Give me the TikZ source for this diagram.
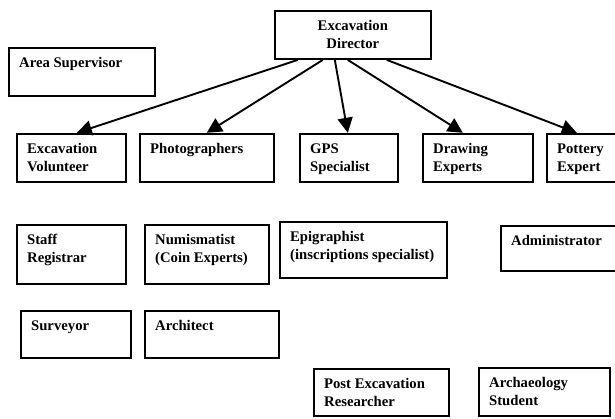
\documentclass[tikz,border=0pt]{standalone}
\usepackage{fontspec}
\setmainfont{Liberation Serif}
\usetikzlibrary{calc,arrows.meta}

% box text: width, height, lines (top left)
\newcommand{\jobtext}[3]{\parbox[b][#2pt][t]{#1pt}{\raggedright\leftskip=10.5pt\rule{0pt}{20pt}#3}}
\newcommand{\headtext}[3]{\parbox[b][#2pt][t]{#1pt}{\centering\rule{0pt}{20pt}#3}}

\begin{document}
\begin{tikzpicture}[x=1pt, y=-1pt]
\tikzstyle{job}=[draw, line width=1.7pt, anchor=north west, inner sep=0pt, font=\fontsize{14.7}{18}\selectfont\bfseries]
\tikzstyle{lnk}=[line width=1.9pt, -{Triangle[length=15pt,width=15pt]}]

\clip (0,0) rectangle (615,418);

% top
\node[job] (dir) at (273.8,9.8) {\headtext{156.4}{48.4}{Excavation\\Director}};
\node[job] (area) at (7.8,46.8) {\jobtext{146.4}{48.4}{Area Supervisor}};

% second row
\node[job] (vol) at (15.8,132.8) {\jobtext{109.4}{48.4}{Excavation\\Volunteer}};
\node[job] (photo) at (138.8,132.8) {\jobtext{134.4}{48.4}{Photographers}};
\node[job] (gps) at (298.8,132.8) {\jobtext{98.4}{48.4}{GPS\\Specialist}};
\node[job] (drw) at (421.8,132.8) {\jobtext{110.4}{48.4}{Drawing\\Experts}};
\node[job] (pot) at (545.8,132.8) {\jobtext{100}{48.4}{Pottery\\Expert}};

% third row
\node[job] (staff) at (15.8,223.8) {\jobtext{109.4}{59.4}{Staff\\Registrar}};
\node[job] (coin) at (143.8,223.8) {\jobtext{124.4}{59.4}{Numismatist\\(Coin Experts)}};
\node[job] (epi) at (278.8,220.8) {\jobtext{167.4}{56.4}{Epigraphist\\(inscriptions specialist)}};
\node[job] (admin) at (499.8,224.8) {\jobtext{130}{45.4}{Administrator}};

% fourth row
\node[job] (surv) at (19.8,309.8) {\jobtext{110.4}{47.4}{Surveyor}};
\node[job] (arch) at (143.8,309.8) {\jobtext{134.4}{47.4}{Architect}};

% bottom
\node[job] (post) at (312.8,367.8) {\jobtext{135.4}{47.4}{Post Excavation\\Researcher}};
\node[job] (stud) at (477.8,366.8) {\jobtext{131.4}{48.4}{Archaeology\\Student}};

% arrows from the director
\draw[lnk] ($(dir.south west)+(24,0)$) -- ($(vol.north west)+(61,0)$);
\draw[lnk] ($(dir.south west)+(49,0)$) -- ($(photo.north west)+(68,0)$);
\draw[lnk] ($(dir.south west)+(61,0)$) -- ($(gps.north west)+(49,0)$);
\draw[lnk] ($(dir.south west)+(74,0)$) -- ($(drw.north west)+(41,0)$);
\draw[lnk] ($(dir.south west)+(113,0)$) -- ($(pot.north west)+(31,0)$);
\end{tikzpicture}
\end{document}
